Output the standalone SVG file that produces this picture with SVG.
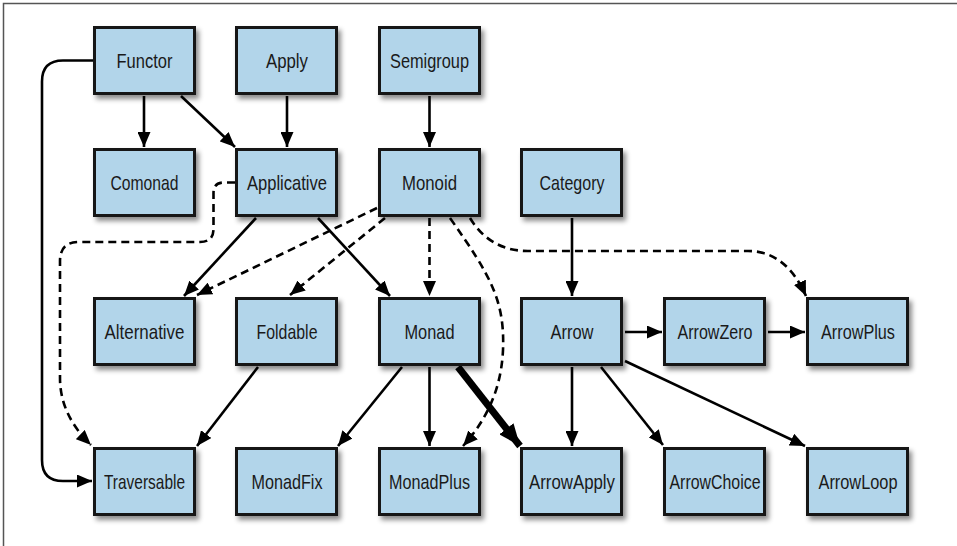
<svg xmlns="http://www.w3.org/2000/svg" width="957" height="546" viewBox="0 0 957 546">
<defs>
<style>
.node rect{fill:#b2d5ea;stroke:#141414;stroke-width:3;filter:url(#sh)}
.node text{font-family:"Liberation Sans Narrow","Liberation Sans",Arial,sans-serif;font-size:21px;fill:#1a1a1a;text-anchor:middle}
.e{fill:none;stroke:#000;stroke-width:2.6;marker-end:url(#ah)}
.d{stroke-dasharray:8 5}
.thick{stroke-width:7;marker-end:url(#ahb)}
.frame{stroke:#555;stroke-width:1.5;fill:none}
</style>
<filter id="sh" x="-20%" y="-20%" width="150%" height="150%">
<feDropShadow dx="3" dy="4" stdDeviation="2.5" flood-color="#000" flood-opacity="0.45"/>
</filter>
<marker id="ah" viewBox="0 0 15 13" refX="15" refY="6.5" markerWidth="15" markerHeight="13" markerUnits="userSpaceOnUse" orient="auto">
<path d="M0,0 L15,6.5 L0,13 z" fill="#000"/>
</marker>
<marker id="ahb" viewBox="0 0 22 18" refX="22" refY="9" markerWidth="22" markerHeight="18" markerUnits="userSpaceOnUse" orient="auto">
<path d="M0,0 L22,9 L0,18 z" fill="#000"/>
</marker>
</defs>
<rect width="957" height="546" fill="#fff"/>
<path class="frame" d="M3.5,546 V3.5 H957"/>
<g id="connectors">
<path class="e" d="M144,96 V147"/>
<path class="e" d="M181,96 L235,147"/>
<path class="e" d="M287,96 V147"/>
<path class="e" d="M429.5,96 V147"/>
<path class="e" d="M93,60.5 H63 Q42,60.5 42,81.5 V460 Q42,481 63,481 H92"/>
<path class="e d" d="M235,182.5 H224 Q213.5,182.5 213.5,193 V229 Q213.5,242 200,242 H79 Q60,242 60,261 V378 Q60,415 91,445"/>
<path class="e" d="M256,218 L184,296"/>
<path class="e" d="M318,218 L390,296"/>
<path class="e d" d="M377,208 L197,295"/>
<path class="e d" d="M385,218 L290,295"/>
<path class="e d" d="M429.5,218 V296"/>
<path class="e d" d="M450,218 C490,275 505,300 503,350 C501,395 482,425 463,446"/>
<path class="e d" d="M470,218 Q490,251 528,251 H748 Q786,251 806,296"/>
<path class="e" d="M572,218 V296"/>
<path class="e" d="M402,367 L338,446"/>
<path class="e" d="M429.5,367 V446"/>
<path class="e thick" d="M458,367 L520,446"/>
<path class="e" d="M258,367 L197,446"/>
<path class="e" d="M625,332 H662"/>
<path class="e" d="M768,332 H805"/>
<path class="e" d="M572,367 V446"/>
<path class="e" d="M601,367 L663,445"/>
<path class="e" d="M625,361 L805,446"/>
</g>
<g id="Functor" class="node"><rect x="94.5" y="27.5" width="100" height="66"/><text x="144.5" y="68" textLength="56" lengthAdjust="spacingAndGlyphs">Functor</text></g>
<g id="Apply" class="node"><rect x="236.5" y="27.5" width="100" height="66"/><text x="287" y="68" textLength="42" lengthAdjust="spacingAndGlyphs">Apply</text></g>
<g id="Semigroup" class="node"><rect x="379.5" y="27.5" width="100" height="66"/><text x="429.5" y="68" textLength="79" lengthAdjust="spacingAndGlyphs">Semigroup</text></g>
<g id="Comonad" class="node"><rect x="94.5" y="149.5" width="100" height="66"/><text x="144.5" y="190" textLength="68" lengthAdjust="spacingAndGlyphs">Comonad</text></g>
<g id="Applicative" class="node"><rect x="236.5" y="149.5" width="100" height="66"/><text x="287" y="190" textLength="80" lengthAdjust="spacingAndGlyphs">Applicative</text></g>
<g id="Monoid" class="node"><rect x="379.5" y="149.5" width="100" height="66"/><text x="429.5" y="190" textLength="55" lengthAdjust="spacingAndGlyphs">Monoid</text></g>
<g id="Category" class="node"><rect x="521.5" y="149.5" width="100" height="66"/><text x="572" y="190" textLength="65" lengthAdjust="spacingAndGlyphs">Category</text></g>
<g id="Alternative" class="node"><rect x="94.5" y="298.5" width="100" height="66"/><text x="144.5" y="339" textLength="80" lengthAdjust="spacingAndGlyphs">Alternative</text></g>
<g id="Foldable" class="node"><rect x="236.5" y="298.5" width="100" height="66"/><text x="287" y="339" textLength="61" lengthAdjust="spacingAndGlyphs">Foldable</text></g>
<g id="Monad" class="node"><rect x="379.5" y="298.5" width="100" height="66"/><text x="429.5" y="339" textLength="50" lengthAdjust="spacingAndGlyphs">Monad</text></g>
<g id="Arrow" class="node"><rect x="521.5" y="298.5" width="100" height="66"/><text x="572" y="339" textLength="43" lengthAdjust="spacingAndGlyphs">Arrow</text></g>
<g id="ArrowZero" class="node"><rect x="664.5" y="298.5" width="100" height="66"/><text x="715" y="339" textLength="75" lengthAdjust="spacingAndGlyphs">ArrowZero</text></g>
<g id="ArrowPlus" class="node"><rect x="807.5" y="298.5" width="100" height="66"/><text x="858" y="339" textLength="74" lengthAdjust="spacingAndGlyphs">ArrowPlus</text></g>
<g id="Traversable" class="node"><rect x="94.5" y="448.5" width="100" height="66"/><text x="144.5" y="489" textLength="81" lengthAdjust="spacingAndGlyphs">Traversable</text></g>
<g id="MonadFix" class="node"><rect x="236.5" y="448.5" width="100" height="66"/><text x="287" y="489" textLength="71" lengthAdjust="spacingAndGlyphs">MonadFix</text></g>
<g id="MonadPlus" class="node"><rect x="379.5" y="448.5" width="100" height="66"/><text x="429.5" y="489" textLength="81" lengthAdjust="spacingAndGlyphs">MonadPlus</text></g>
<g id="ArrowApply" class="node"><rect x="521.5" y="448.5" width="100" height="66"/><text x="572" y="489" textLength="86" lengthAdjust="spacingAndGlyphs">ArrowApply</text></g>
<g id="ArrowChoice" class="node"><rect x="664.5" y="448.5" width="100" height="66"/><text x="715" y="489" textLength="91" lengthAdjust="spacingAndGlyphs">ArrowChoice</text></g>
<g id="ArrowLoop" class="node"><rect x="807.5" y="448.5" width="100" height="66"/><text x="858" y="489" textLength="79" lengthAdjust="spacingAndGlyphs">ArrowLoop</text></g>
</svg>
